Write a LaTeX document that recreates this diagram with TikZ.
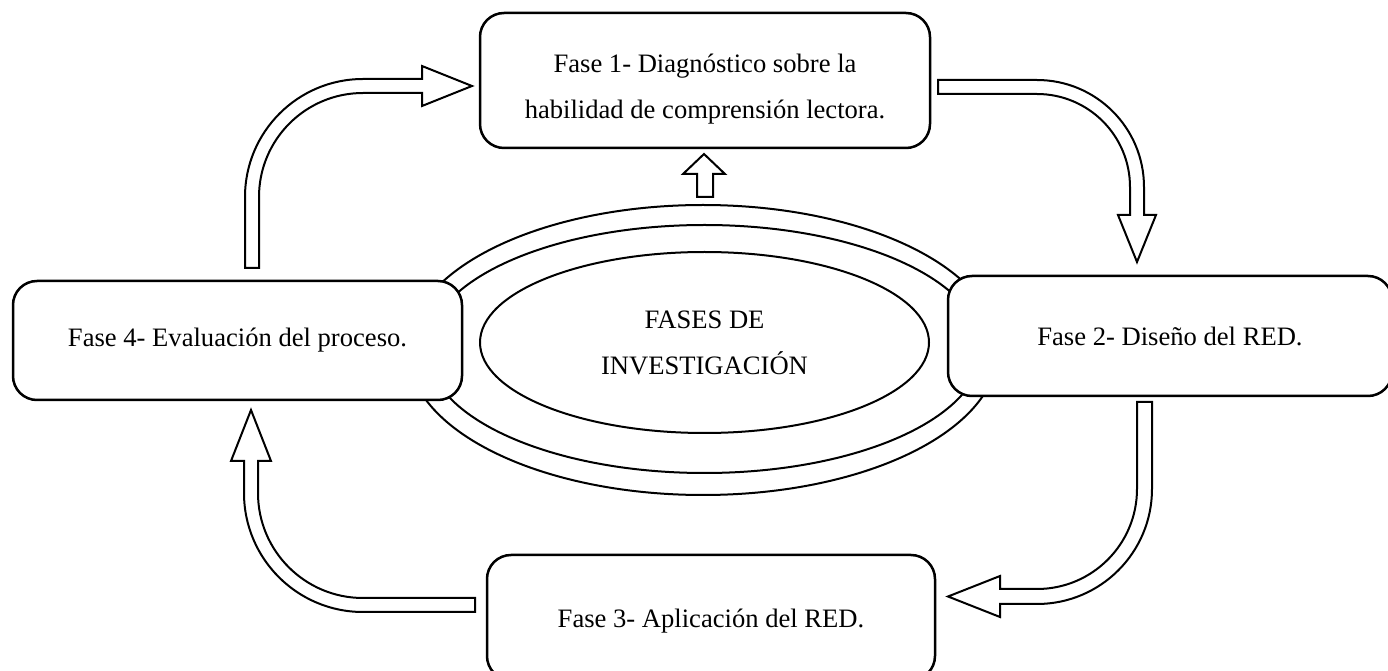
\documentclass[tikz,border=0pt]{standalone}
\usepackage{fontspec}
\setmainfont{Liberation Serif}
\usetikzlibrary{shapes.geometric}
\begin{document}
\begin{tikzpicture}[x=0.5pt,y=0.5pt,
  phase/.style={draw, line width=1.25pt, rounded corners=12pt, fill=white, inner sep=0pt},
  phasetext/.style={align=center, font=\fontsize{13.3}{23}\selectfont, inner sep=0pt},
  ring/.style={draw, line width=1pt, ellipse, inner sep=0pt},
  blockarrow/.style={draw, line width=1pt, fill=white, line join=miter}]
\useasboundingbox (0,0) rectangle (1388,670);
% rings
\node[ring, minimum width=295pt, minimum height=145pt] (outer) at (703,320) {};
\node[ring, minimum width=277pt, minimum height=124pt] (middle) at (704.5,321) {};
\node[ring, phasetext, minimum width=224.5pt, minimum height=90.5pt] (centre)
  at (704.5,327.5) {FASES DE\\INVESTIGACIÓN};
% phase boxes
\node[phase, minimum width=225pt, minimum height=67.5pt,
  label={[phasetext, yshift=-4.2pt]center:Fase 1- Diagnóstico sobre la\\habilidad de comprensión lectora.}]
  (f1) at (705,589.5) {};
\node[phase, minimum width=222pt, minimum height=60pt,
  label={[phasetext]center:Fase 2- Diseño del RED.}] (f2) at (1170,334) {};
\node[phase, minimum width=224pt, minimum height=62.5pt,
  label={[phasetext, yshift=-2pt]center:Fase 3- Aplicación del RED.}] (f3) at (711,52.5) {};
\node[phase, minimum width=224.5pt, minimum height=59.5pt,
  label={[phasetext]center:Fase 4- Evaluación del proceso.}] (f4) at (237.5,329.5) {};
% block arrows
\draw[blockarrow] (245,402) -- (245,473) arc[start angle=180, end angle=90, radius=59pt]
  -- (422,591) -- (422,604) -- (472,584) -- (422,564) -- (422,577) -- (363,577)
  arc[start angle=90, end angle=180, radius=52pt] -- (259,402) -- cycle;
\draw[blockarrow] (938,590) -- (1037,590) arc[start angle=90, end angle=0, radius=53.5pt]
  -- (1144,455) -- (1156,455) -- (1137,408) -- (1118,455) -- (1130,455) -- (1130,483)
  arc[start angle=0, end angle=90, radius=46.5pt] -- (938,576) -- cycle;
\draw[blockarrow] (1152,268) -- (1152,181) arc[start angle=0, end angle=-90, radius=57.5pt]
  -- (1000,66) -- (1000,53) -- (948,73.5) -- (1000,94) -- (1000,81) -- (1037,81)
  arc[start angle=-90, end angle=0, radius=50pt] -- (1137,268) -- cycle;
\draw[blockarrow] (475,58) -- (363,58) arc[start angle=270, end angle=180, radius=59.5pt]
  -- (244,209) -- (231,209) -- (251,260) -- (271,209) -- (258,209) -- (258,177)
  arc[start angle=180, end angle=270, radius=52.5pt] -- (475,72) -- cycle;
\draw[blockarrow] (697,473) -- (697,496) -- (683,496) -- (704,516) -- (725,496)
  -- (713,496) -- (713,473) -- cycle;
\end{tikzpicture}
\end{document}
